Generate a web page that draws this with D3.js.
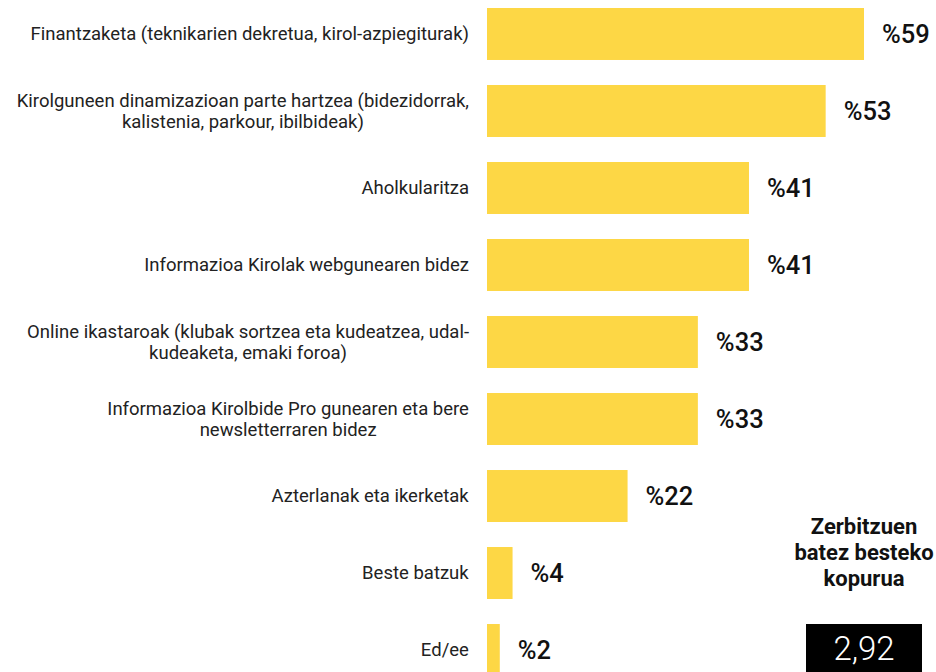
<!DOCTYPE html>
<html>
<head>
<meta charset="utf-8">
<script src="https://cdn.jsdelivr.net/npm/d3@7"></script>
<style>
  body { margin: 0; background: #fff; }
  svg { display: block; font-family: Roboto, "Noto Sans", sans-serif; }
  .cat_label { font-size: 18.5px; fill: #222; }
  .val_label { font-size: 25.5px; font-weight: 500; fill: #111; }
  .avg_title { font-size: 22px; font-weight: 700; fill: #111; }
  .avg_value { font-size: 33px; font-weight: 300; fill: #fff; }
</style>
</head>
<body>
<div id="chart"></div>
<script>
var categories = [
  ["Finantzaketa (teknikarien dekretua, kirol-azpiegiturak)"],
  ["Kirolguneen dinamizazioan parte hartzea (bidezidorrak,", "kalistenia, parkour, ibilbideak)"],
  ["Aholkularitza"],
  ["Informazioa Kirolak webgunearen bidez"],
  ["Online ikastaroak (klubak sortzea eta kudeatzea, udal-", "kudeaketa, emaki foroa)"],
  ["Informazioa Kirolbide Pro gunearen eta bere", "newsletterraren bidez"],
  ["Azterlanak eta ikerketak"],
  ["Beste batzuk"],
  ["Ed/ee"]
];
var values = [59, 53, 41, 41, 33, 33, 22, 4, 2];
var avgTitle = ["Zerbitzuen", "batez besteko", "kopurua"];
var avgValue = "2,92";

var opts = {
  width: 936,
  height: 672
};

drawBars("#chart", opts);

function drawBars(containerID, o) {
  var svg = d3.select(containerID).append("svg")
      .attr("width", o.width)
      .attr("height", o.height);

  var idx = d3.range(values.length);

  var x = d3.scaleLinear()
      .domain([0, 59])
      .range([487, 864]);

  var y = d3.scaleBand()
      .domain(idx)
      .range([8, 676])
      .paddingInner(0.325)
      .paddingOuter(0);

  svg.selectAll("rect.bar")
      .data(idx)
      .enter().append("rect")
      .attr("class", "bar")
      .attr("x", x(0))
      .attr("y", function(i) { return y(i); })
      .attr("width", function(i) { return x(values[i]) - x(0); })
      .attr("height", y.bandwidth())
      .attr("fill", "#fdd745");

  // value labels
  svg.selectAll("text.val_label")
      .data(idx)
      .enter().append("text")
      .attr("class", "val_label")
      .attr("x", function(i) { return x(values[i]) + 18; })
      .attr("y", function(i) { return y(i) + y.bandwidth() / 2; })
      .attr("dy", "0.36em")
      .text(function(i) { return "%" + values[i]; });

  // category labels: centred lines, block right edge at 469
  var lineH = 21;
  idx.forEach(function(i) {
    var lines = categories[i];
    var g = svg.append("text")
        .attr("class", "cat_label")
        .style("text-anchor", "middle");
    var cy = y(i) + y.bandwidth() / 2 - (lines.length - 1) * lineH / 2;
    lines.forEach(function(l, k) {
      g.append("tspan")
          .attr("x", 0)
          .attr("y", cy + k * lineH)
          .attr("dy", "0.35em")
          .text(l);
    });
    var w = g.node().getBBox().width;
    g.selectAll("tspan").attr("x", 469 - w / 2);
  });

  // average box
  var cx = 864;
  svg.selectAll("text.avg_title")
      .data(avgTitle)
      .enter().append("text")
      .attr("class", "avg_title")
      .attr("x", cx)
      .attr("y", function(d, k) { return 526 + k * 26; })
      .attr("dy", "0.35em")
      .style("text-anchor", "middle")
      .text(function(d) { return d; });

  svg.append("rect")
      .attr("x", 806)
      .attr("y", 624)
      .attr("width", 116)
      .attr("height", 48)
      .attr("fill", "#000");

  svg.append("text")
      .attr("class", "avg_value")
      .attr("x", cx)
      .attr("y", 648)
      .attr("dy", "0.36em")
      .style("text-anchor", "middle")
      .text(avgValue);
}
</script>
</body>
</html>
